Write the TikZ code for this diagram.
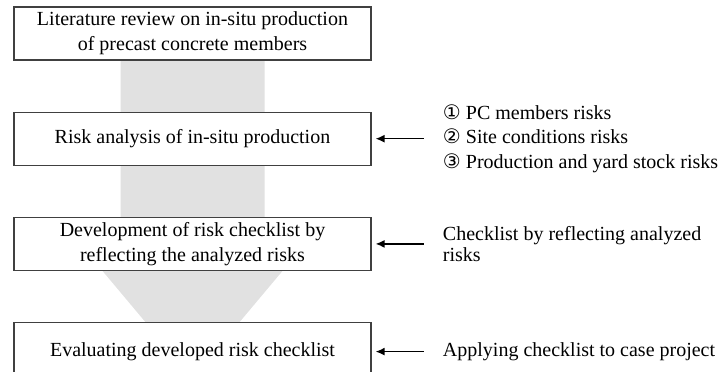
\documentclass[tikz,border=0pt]{standalone}
\usepackage{fontspec}
\setmainfont{Liberation Serif}
\newfontfamily\circfont{DejaVu Sans}
\usepackage{xcolor}
\usepackage{tikz}
\usetikzlibrary{shapes,arrows.meta,positioning,calc}
\pgfdeclarelayer{background}
\pgfsetlayers{background,main}
\definecolor{flowgray}{RGB}{225,225,225}

\begin{document}
\begin{tikzpicture}[
    x=0.5pt, y=-0.5pt,
    node distance=25.5pt,
    font=\fontsize{10}{12.5}\selectfont,
    stage/.style={rectangle, draw=black!75, line width=0.6pt, fill=white, minimum width=178.5pt, minimum height=26.5pt, align=center, inner sep=2pt},
    note/.style={align=left, inner sep=0pt},
    arrow/.style={{Latex[length=4.5pt,width=4pt]}-, line width=0.7pt}
]
    \useasboundingbox (0,0) rectangle (725,371);

    \node[stage] (lit) at (192.5,33.5) {Literature review on in-situ production\\of precast concrete members};
    \node[stage, below=of lit] (risk) {Risk analysis of in-situ production};
    \node[stage, below=of risk] (dev) {Development of risk checklist by\\reflecting the analyzed risks};
    \node[stage, below=of dev, minimum height=29pt] (eval) {Evaluating developed risk checklist};

    \node[note, right=35.5pt of risk, font=\fontsize{10}{12.25}\selectfont] (riskitems) {{\circfont ①} PC members risks\\{\circfont ②} Site conditions risks\\{\circfont ③} Production and yard stock risks};
    \node[note, right=35.5pt of dev, font=\fontsize{10}{10.5}\selectfont] (checkitems) {Checklist by reflecting analyzed\\risks};
    \node[note, right=35.5pt of eval] (caseitems) {Applying checklist to case project};

    \draw[arrow] ([xshift=2pt]risk.east) -- ([xshift=-9.5pt]riskitems.west);
    \draw[arrow] ([xshift=2pt]dev.east) -- ([xshift=-9.5pt]checkitems.west);
    \draw[arrow] ([xshift=2pt]eval.east) -- ([xshift=-9.5pt]caseitems.west);

    % wide gray flow arrow behind the stages
    \begin{pgfonlayer}{background}
        \fill[flowgray] ($(lit.south)+(-72,0)$) -- ($(lit.south)+(72,0)$) -- ($(dev.south)+(72,-12)$) -- ($(dev.south)+(100,-12)$)
            -- ($(eval.south)+(0,-3)$) -- ($(dev.south)+(-100,-12)$) -- ($(dev.south)+(-72,-12)$) -- cycle;
    \end{pgfonlayer}
\end{tikzpicture}
\end{document}
